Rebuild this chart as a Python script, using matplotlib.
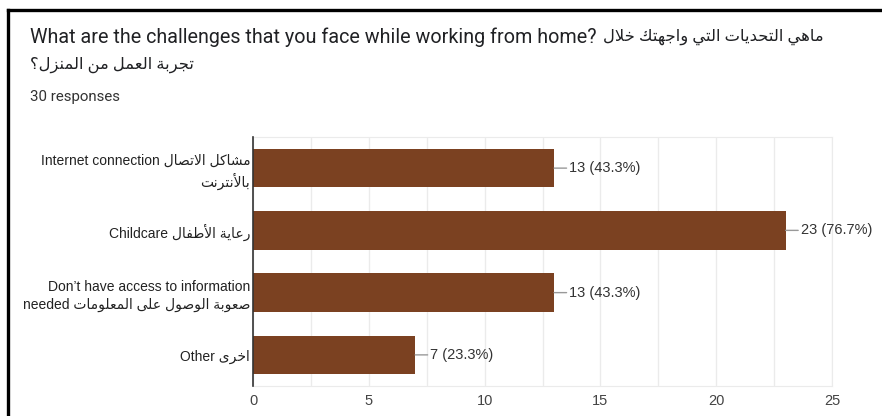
"""Google-forms style bar chart: challenges while working from home"""
# coding=utf-8
import matplotlib
matplotlib.use("Agg")
import matplotlib.pyplot as plt
from matplotlib.lines import Line2D
from matplotlib.ticker import MultipleLocator

# arabic presentation forms: letter -> (isolated code point, number of forms)
FORMS = {
    'ء': (0xFE80, 1), 'آ': (0xFE81, 2), 'أ': (0xFE83, 2), 'ؤ': (0xFE85, 2),
    'إ': (0xFE87, 2), 'ئ': (0xFE89, 4), 'ا': (0xFE8D, 2), 'ب': (0xFE8F, 4),
    'ة': (0xFE93, 2), 'ت': (0xFE95, 4), 'ث': (0xFE99, 4), 'ج': (0xFE9D, 4),
    'ح': (0xFEA1, 4), 'خ': (0xFEA5, 4), 'د': (0xFEA9, 2), 'ذ': (0xFEAB, 2),
    'ر': (0xFEAD, 2), 'ز': (0xFEAF, 2), 'س': (0xFEB1, 4), 'ش': (0xFEB5, 4),
    'ص': (0xFEB9, 4), 'ض': (0xFEBD, 4), 'ط': (0xFEC1, 4), 'ظ': (0xFEC5, 4),
    'ع': (0xFEC9, 4), 'غ': (0xFECD, 4), 'ف': (0xFED1, 4), 'ق': (0xFED5, 4),
    'ك': (0xFED9, 4), 'ل': (0xFEDD, 4), 'م': (0xFEE1, 4), 'ن': (0xFEE5, 4),
    'ه': (0xFEE9, 4), 'و': (0xFEED, 2), 'ى': (0xFEEF, 2), 'ي': (0xFEF1, 4),
}
LAM_ALEF = {'ا': 0xFEFB, 'أ': 0xFEF7, 'إ': 0xFEF9, 'آ': 0xFEF5}


def arabic(text):
    """shapes an arabic phrase and returns it in visual (left to right) order"""
    chars = []
    i = 0
    while i < len(text):
        if text[i] == 'ل' and i + 1 < len(text) and text[i + 1] in LAM_ALEF:
            chars.append(('LA', LAM_ALEF[text[i + 1]]))
            i += 2
        else:
            chars.append((text[i], None))
            i += 1
    out = []
    for k, (c, lig) in enumerate(chars):
        prev = chars[k - 1][0] if k > 0 else None
        nxt = chars[k + 1][0] if k + 1 < len(chars) else None
        joins_prev = prev in FORMS and FORMS[prev][1] == 4
        if lig is not None:
            out.append(chr(lig + int(joins_prev)))
            continue
        if c not in FORMS:
            out.append(c)
            continue
        base, n = FORMS[c]
        if n == 1:
            out.append(chr(base))
            continue
        joins_next = n == 4 and (nxt == 'LA' or (nxt in FORMS and FORMS[nxt][1] > 1))
        if joins_prev and joins_next:
            form = 3
        elif joins_prev:
            form = 1
        elif joins_next:
            form = 2
        else:
            form = 0
        out.append(chr(base + form))
    return ''.join(reversed(out))


# data
title_en = "What are the challenges that you face while working from home?"
title_ar_1 = "ماهي التحديات التي واجهتك خلال"
title_ar_2 = "تجربة العمل من المنزل؟"
n_responses = 30
categories = [
    "Internet connection " + arabic("مشاكل الاتصال") + "\n" + arabic("بالأنترنت"),
    "Childcare " + arabic("رعاية الأطفال"),
    "Don\u2019t have access to information\nneeded " + arabic("صعوبة الوصول على المعلومات"),
    "Other " + arabic("اخرى"),
]
counts = [13, 23, 13, 7]

bar_color = "#7b4121"
fam = ['Liberation Sans', 'DejaVu Sans']
title_fam = ['Roboto', 'DejaVu Sans']

fig = plt.figure(figsize=(8.82, 4.16), dpi=100)
fig.patch.set_facecolor("white")

# frame lines of the screenshot
top = 1 - 10 / 416
fig.add_artist(Line2D([8 / 882, 8 / 882], [0, top], color="black", lw=2.4, transform=fig.transFigure))
fig.add_artist(Line2D([8 / 882, 1], [top, top], color="black", lw=2.4, transform=fig.transFigure))

t_en = fig.text(30 / 882, 1 - 37 / 416, title_en, ha="left", va="center",
                fontsize=14.2, color="#202124", family=title_fam)
renderer = fig.canvas.get_renderer()
x_ar = t_en.get_window_extent(renderer).x1 + 6
fig.text(x_ar / 882, 1 - 37 / 416, arabic(title_ar_1), ha="left", va="center",
         fontsize=11.8, color="#202124", family=title_fam)
fig.text(30 / 882, 1 - 65 / 416, arabic(title_ar_2), ha="left", va="center",
         fontsize=11.8, color="#202124", family=title_fam)
fig.text(30 / 882, 1 - 97 / 416, f"{n_responses} responses", ha="left", va="center",
         fontsize=10.8, color="#333333", family=title_fam)

ax = fig.add_axes([253 / 882, 1 - 386 / 416, 579 / 882, 249 / 416])
pos = list(range(len(categories)))
ax.barh(pos, counts, height=0.62, color=bar_color, zorder=3)
ax.set_xlim(0, 25)
ax.set_ylim(len(categories) - 0.5, -0.5)

ax.xaxis.set_major_locator(MultipleLocator(5))
ax.xaxis.set_minor_locator(MultipleLocator(2.5))
ax.grid(axis="x", which="both", color="#ebebeb", lw=1, zorder=0)
ax.tick_params(axis="both", which="both", length=0)
ax.tick_params(axis="x", pad=6, labelsize=10.5, labelcolor="#444444")
for lbl in ax.get_xticklabels():
    lbl.set_family(fam)

ax.set_yticks(pos)
ax.set_yticklabels(categories, fontsize=10, color="#222222", family=fam, ha="right",
                   multialignment="right", linespacing=1.3)
ax.tick_params(axis="y", pad=2)

for side in ["top", "right", "bottom"]:
    ax.spines[side].set_color("#ebebeb")
ax.spines["left"].set_color("#333333")
ax.spines["left"].set_linewidth(1.2)
ax.spines["left"].set_zorder(4)

for p, c in zip(pos, counts):
    ax.annotate(f"{c} ({100 * c / n_responses:.1f}%)", xy=(c, p), xytext=(11, 0),
                textcoords="offset points", ha="left", va="center", fontsize=10.5,
                color="#333333", family=fam,
                arrowprops=dict(arrowstyle="-", color="#999999", lw=1, shrinkA=0, shrinkB=0))

fig.savefig("out.png", dpi=100)
